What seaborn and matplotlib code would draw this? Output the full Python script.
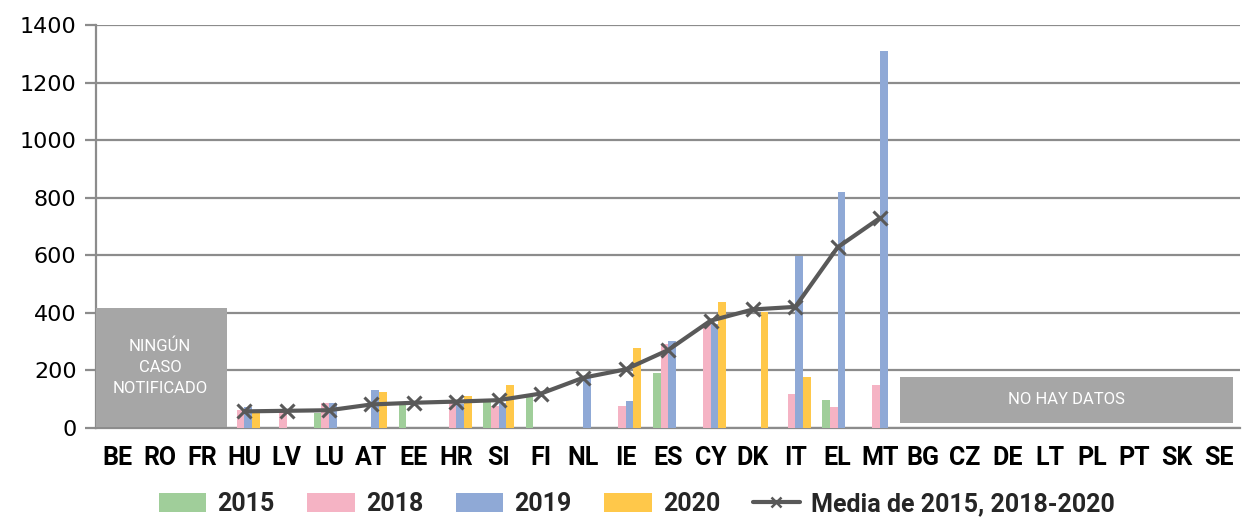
import numpy as np
import pandas as pd
import matplotlib
matplotlib.use("Agg")
import matplotlib.pyplot as plt
import seaborn as sns
from matplotlib.patches import Patch
from matplotlib.lines import Line2D

# Countries in display order
countries = ["BE", "RO", "FR", "HU", "LV", "LU", "AT", "EE", "HR", "SI", "FI", "NL",
             "IE", "ES", "CY", "DK", "IT", "EL", "MT", "BG", "CZ", "DE", "LT", "PL",
             "PT", "SK", "SE"]
years = ["2015", "2018", "2019", "2020"]
nan = np.nan

#            BE   RO   FR   HU   LV   LU   AT   EE   HR   SI   FI   NL   IE   ES   CY   DK   IT   EL   MT
v2015 = [nan, nan, nan, nan, nan, 53, nan, 83, nan, 91, 118, nan, nan, 192, nan, nan, nan, 97, nan] + [nan] * 8
v2018 = [nan, nan, nan, 63, 62, 88, nan, nan, 91, 76, nan, nan, 76, 292, 366, nan, 118, 74, 149] + [nan] * 8
v2019 = [nan, nan, nan, 72, nan, 88, 132, nan, 84, 88, nan, 175, 93, 301, 361, nan, 598, 819, 1311] + [nan] * 8
v2020 = [nan, nan, nan, 51, nan, nan, 127, nan, 111, 149, nan, nan, 279, nan, 439, 404, 178, nan, nan] + [nan] * 8

mean_countries = ["HU", "LV", "LU", "AT", "EE", "HR", "SI", "FI", "NL", "IE", "ES",
                  "CY", "DK", "IT", "EL", "MT"]
mean_values = [58, 60, 62, 82, 88, 92, 97, 120, 175, 204, 271, 373, 412, 421, 628, 730]

no_case = ["BE", "RO", "FR"]
no_data = ["BG", "CZ", "DE", "LT", "PL", "PT", "SK", "SE"]

colors = {"2015": "#A0CE9A", "2018": "#F5B3C4", "2019": "#8FA9D6", "2020": "#FFC84A"}
line_color = "#595959"
box_color = "#A6A6A6"
grid_color = "#8C8C8C"
label_font = ["Roboto", "DejaVu Sans"]

sns.set_theme(style="white")
plt.rcParams["font.family"] = ["DejaVu Sans"]

rows = []
for y, vals in zip(years, [v2015, v2018, v2019, v2020]):
    for c, v in zip(countries, vals):
        rows.append({"country": c, "year": y, "value": v})
df = pd.DataFrame(rows)

fig = plt.figure(figsize=(12.44, 5.17), dpi=100)
ax = fig.add_axes([0.0772, 0.172, 0.9198, 0.7796])

sns.barplot(data=df, x="country", y="value", hue="year", order=countries,
            hue_order=years, palette=colors, width=0.72, saturation=1,
            errorbar=None, linewidth=0, ax=ax, legend=False, zorder=3)

pos = {c: i for i, c in enumerate(countries)}
mean_df = pd.DataFrame({"x": [pos[c] for c in mean_countries], "value": mean_values})
sns.lineplot(data=mean_df, x="x", y="value", color=line_color, linewidth=3,
             marker="x", markersize=10, markeredgewidth=2.2,
             markeredgecolor=line_color, ax=ax, zorder=5)

ax.set_xlim(-0.5, len(countries) - 0.5)
ax.set_ylim(0, 1400)
ax.set_yticks(np.arange(0, 1401, 200))
ax.yaxis.grid(True, color=grid_color, linewidth=1.6, zorder=0)
ax.set_axisbelow(True)
ax.set_xlabel("")
ax.set_ylabel("")

for side in ["top", "right"]:
    ax.spines[side].set_visible(False)
for side in ["left", "bottom"]:
    ax.spines[side].set_color(grid_color)
    ax.spines[side].set_linewidth(1.6)

ax.set_xticks(range(len(countries)))
ax.set_xticklabels(countries, fontsize=18, fontweight="bold", family=label_font)
ax.set_xticks(np.arange(-0.5, len(countries)), minor=True)
ax.tick_params(axis="x", which="major", length=0, pad=13, colors="black")
ax.tick_params(axis="x", which="minor", length=7, width=1.6, color=grid_color, direction="out")
ax.tick_params(axis="y", which="major", length=8, width=1.6, color=grid_color,
               labelsize=16, pad=6, labelcolor="black", left=True)
for lbl in ax.get_yticklabels():
    lbl.set_fontfamily("DejaVu Sans")

# Grey panels for countries without cases / without data
x0, x1 = -0.57, pos[no_case[-1]] + 0.6
ax.axvspan(x0, x1, ymin=5 / 1400, ymax=416 / 1400, color=box_color, zorder=6, lw=0)
ax.text((x0 + x1) / 2, 210, "NINGÚN\nCASO\nNOTIFICADO", ha="center", va="center",
        color="white", fontsize=12, zorder=7, linespacing=1.5, family=label_font)
x0, x1 = pos[no_data[0]] - 0.52, pos[no_data[-1]] + 0.33
ax.axvspan(x0, x1, ymin=18 / 1400, ymax=178 / 1400, color=box_color, zorder=6, lw=0)
ax.text((x0 + x1) / 2, 98, "NO HAY DATOS", ha="center", va="center", color="white",
        fontsize=12, zorder=7, family=label_font)

handles = [Patch(facecolor=colors[y], edgecolor="none", label=y) for y in years]
handles.append(Line2D([0], [0], color=line_color, linewidth=3, marker="x",
                      markersize=7, markeredgewidth=1.8, label="Media de 2015, 2018-2020"))
fig.legend(handles=handles, loc="center", bbox_to_anchor=(0.512, 0.025), ncol=5,
           frameon=False, prop={"family": label_font, "weight": "bold", "size": 18},
           handlelength=1.9, handleheight=0.75, columnspacing=1.3, handletextpad=0.45)

fig.savefig("out.png", dpi=100)
